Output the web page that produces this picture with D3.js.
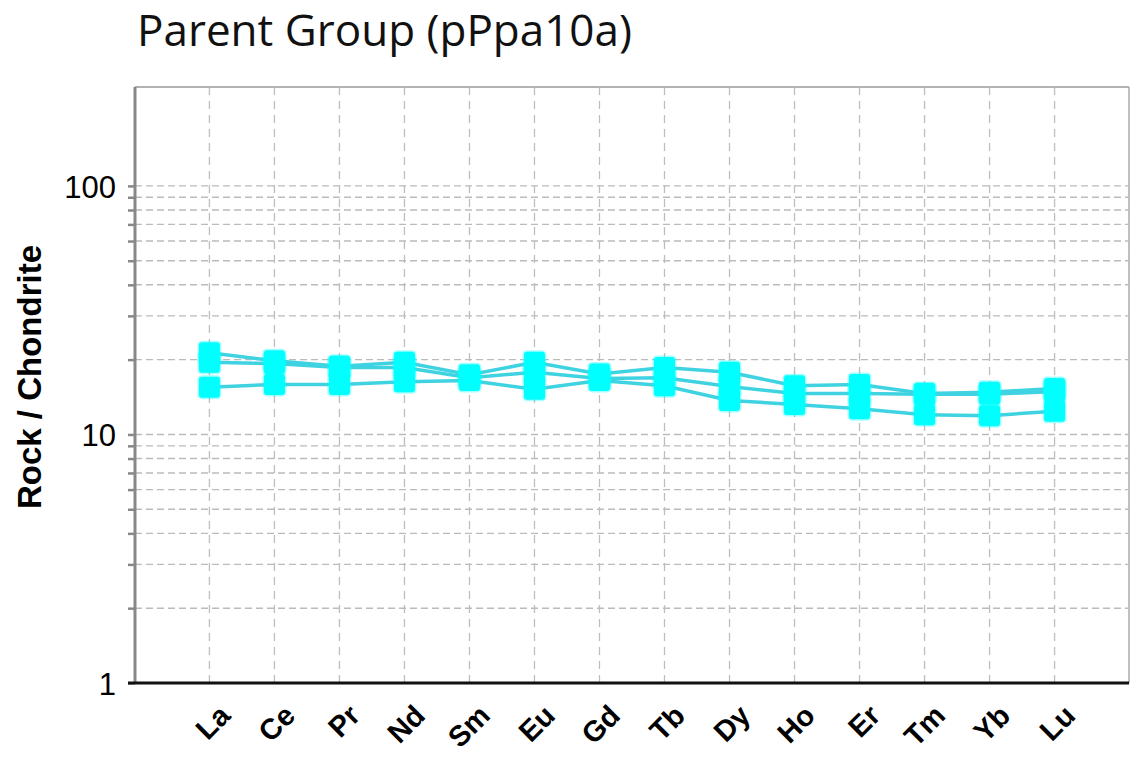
<!DOCTYPE html>
<html>
<head>
<meta charset="utf-8">
<script src="https://cdn.jsdelivr.net/npm/d3@7"></script>
<style>
  body { margin: 0; background: #fff; }
  svg { display: block; }
</style>
</head>
<body>
<div id="chart"></div>
<script>
// REE elements along the x axis
const elements = ["La", "Ce", "Pr", "Nd", "Sm", "Eu", "Gd", "Tb", "Dy", "Ho", "Er", "Tm", "Yb", "Lu"];

// chondrite-normalised values, one array per sample
const sampleA = [21.3, 19.8, 18.8, 19.5, 17.4, 19.5, 17.5, 18.6, 17.8, 15.7, 15.9, 14.6, 14.8, 15.3];
const sampleB = [19.5, 19.3, 18.6, 18.6, 16.9, 17.8, 16.8, 16.9, 15.6, 14.6, 14.6, 14.5, 14.5, 14.9];
const sampleC = [15.5, 15.9, 15.9, 16.3, 16.5, 15.2, 16.5, 15.7, 13.7, 13.2, 12.7, 12.0, 11.9, 12.4];
const samples = [sampleA, sampleB, sampleC];

const yTicks = [1, 2, 3, 4, 5, 6, 7, 8, 9, 10, 20, 30, 40, 50, 60, 70, 80, 90, 100];
const yLabels = [1, 10, 100];

const width = 1139, height = 764;
const margin = { top: 87, right: 10, bottom: 81, left: 135 };
const innerW = width - margin.left - margin.right;
const innerH = height - margin.top - margin.bottom;

const svg = d3.select("#chart").append("svg")
    .attr("width", width)
    .attr("height", height);

const x = d3.scalePoint()
    .domain(elements)
    .range([0, innerW])
    .padding(1.145);

const y = d3.scaleLog()
    .domain([1, 250])
    .range([innerH, 0]);

const g = svg.append("g")
    .attr("transform", `translate(${margin.left},${margin.top})`);

// title
svg.append("text")
    .attr("x", 137)
    .attr("y", 46)
    .attr("fill", "#111")
    .style("font-family", "'Open Sans', sans-serif")
    .style("font-size", "44px")
    .text("Parent Group (pPpa10a)");

// frame (top and right)
g.append("line")
    .attr("x1", 0).attr("x2", innerW)
    .attr("y1", 0).attr("y2", 0)
    .attr("stroke", "#999").attr("stroke-width", 1.5);
g.append("line")
    .attr("x1", innerW).attr("x2", innerW)
    .attr("y1", 0).attr("y2", innerH)
    .attr("stroke", "#aaa").attr("stroke-width", 1.5);

// horizontal grid
g.append("g")
    .selectAll("line")
    .data(yTicks.filter(d => d !== 1))
    .join("line")
    .attr("x1", 0).attr("x2", innerW)
    .attr("y1", d => y(d)).attr("y2", d => y(d))
    .attr("stroke", "#bbb")
    .attr("stroke-width", 1.4)
    .attr("stroke-dasharray", "7,4");

// vertical grid
g.append("g")
    .selectAll("line")
    .data(elements)
    .join("line")
    .attr("x1", d => x(d)).attr("x2", d => x(d))
    .attr("y1", 0).attr("y2", innerH)
    .attr("stroke", "#bdbdbd")
    .attr("stroke-width", 1.3)
    .attr("stroke-dasharray", "8,6");

// y axis
const yAxis = g.append("g")
    .call(d3.axisLeft(y)
        .tickValues(yTicks)
        .tickSize(7)
        .tickFormat(d => yLabels.includes(d) ? d : ""));

yAxis.select(".domain")
    .attr("stroke", "#888")
    .attr("stroke-width", 3)
    .attr("d", `M0,${innerH}V0`);
yAxis.selectAll(".tick line")
    .attr("stroke", "#888")
    .attr("stroke-width", 2.5);
yAxis.selectAll(".tick text")
    .attr("x", -19)
    .attr("dy", "0.36em")
    .attr("fill", "#000")
    .style("font-family", "'Liberation Sans', Arial, sans-serif")
    .style("font-size", "31px");

// x axis baseline
g.append("line")
    .attr("x1", -7).attr("x2", innerW)
    .attr("y1", innerH).attr("y2", innerH)
    .attr("stroke", "#111").attr("stroke-width", 3);

// x labels
g.append("g")
    .selectAll("text")
    .data(elements)
    .join("text")
    .attr("transform", d => `translate(${x(d) + 8},${innerH + 20}) rotate(-45)`)
    .attr("text-anchor", "end")
    .attr("dy", "0.7em")
    .attr("fill", "#000")
    .style("font-family", "'Liberation Sans', Arial, sans-serif")
    .style("font-weight", "bold")
    .style("font-size", "29px")
    .text(d => d);

// y label
svg.append("text")
    .attr("transform", `translate(41,${margin.top + 290}) rotate(-90)`)
    .attr("text-anchor", "middle")
    .attr("fill", "#000")
    .style("font-family", "'Liberation Sans', Arial, sans-serif")
    .style("font-weight", "bold")
    .style("font-size", "33px")
    .text("Rock / Chondrite");

// series lines
const line = d3.line()
    .x((d, i) => x(elements[i]))
    .y(d => y(d));

g.append("g")
    .selectAll("path")
    .data(samples)
    .join("path")
    .attr("d", line)
    .attr("fill", "none")
    .attr("stroke", "#3fd3e2")
    .attr("stroke-width", 3.5);

// markers
const ms = 21;
samples.forEach(s => {
    g.append("g")
        .selectAll("rect")
        .data(s)
        .join("rect")
        .attr("x", (d, i) => x(elements[i]) - ms / 2)
        .attr("y", d => y(d) - ms / 2)
        .attr("width", ms)
        .attr("height", ms)
        .attr("rx", 3)
        .attr("fill", "#00ffff")
        .attr("stroke", "rgba(0,255,255,0.35)")
        .attr("stroke-width", 3);
});
</script>
</body>
</html>
